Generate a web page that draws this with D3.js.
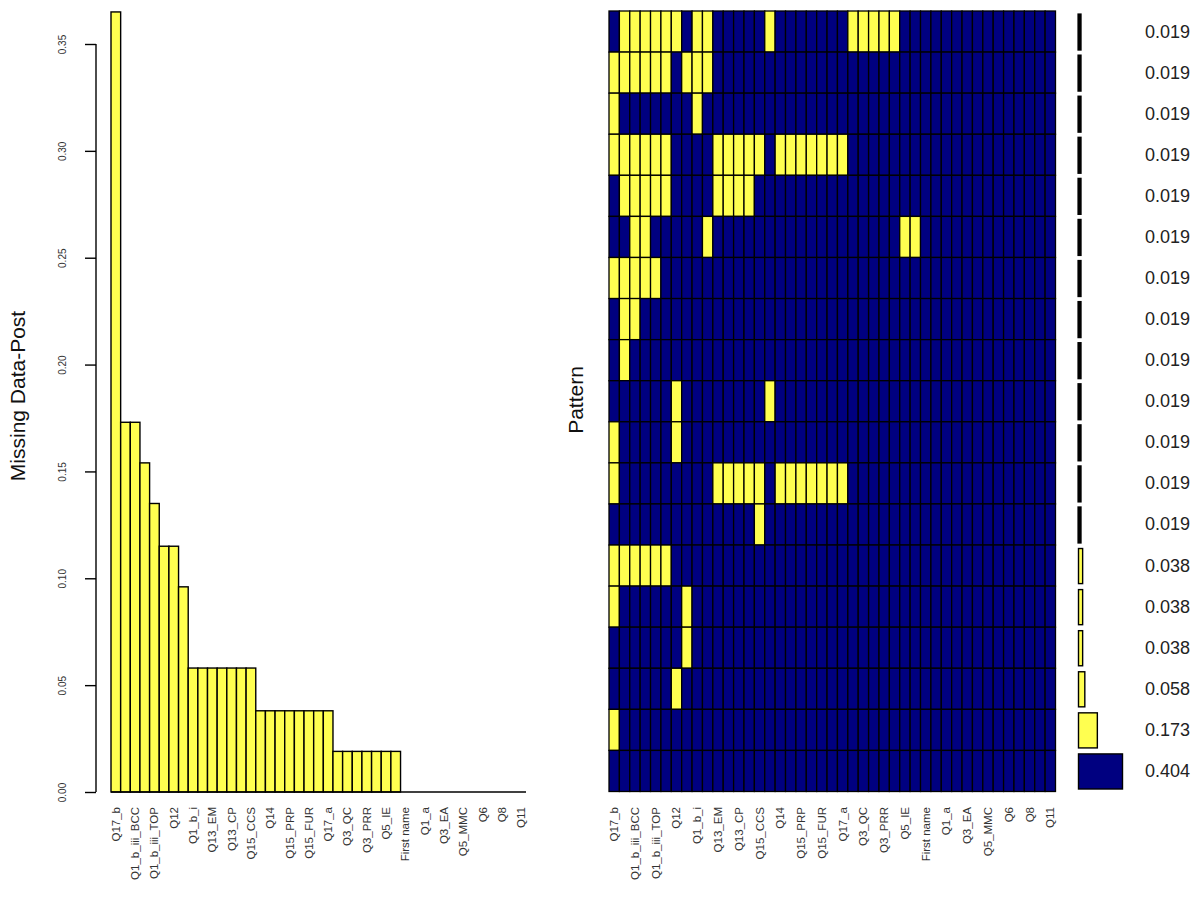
<!DOCTYPE html>
<html>
<head>
<meta charset="utf-8">
<script src="https://cdnjs.cloudflare.com/ajax/libs/d3/7.8.5/d3.min.js"></script>
<style>
  body { margin: 0; background: #fff; }
  text { font-family: "Liberation Sans", Arial, sans-serif; }
</style>
</head>
<body>
<svg class="chart" width="1200" height="900"></svg>
<script>
// variables in order of missingness; only every other name is printed
var varLabels = ['Q17_b', '', 'Q1_b_iii_BCC', '', 'Q1_b_iii_TOP', '', 'Q12', '',
  'Q1_b_i', '', 'Q13_EM', '', 'Q13_CP', '', 'Q15_CCS', '', 'Q14', '', 'Q15_PRP', '',
  'Q15_FUR', '', 'Q17_a', '', 'Q3_QC', '', 'Q3_PRR', '', 'Q5_IE', '', 'First name', '',
  'Q1_a', '', 'Q3_EA', '', 'Q5_MMC', '', 'Q6', '', 'Q8', '', 'Q11'];

// proportion missing per variable
var missingProp = [0.365, 0.173, 0.173, 0.154, 0.135, 0.115, 0.115, 0.096,
  0.058, 0.058, 0.058, 0.058, 0.058, 0.058, 0.058,
  0.038, 0.038, 0.038, 0.038, 0.038, 0.038, 0.038, 0.038,
  0.019, 0.019, 0.019, 0.019, 0.019, 0.019, 0.019,
  0, 0, 0, 0, 0, 0, 0, 0, 0, 0, 0, 0, 0];

var yTicks = [0, 0.05, 0.10, 0.15, 0.20, 0.25, 0.30, 0.35];

// missing variables (by index) in each pattern, top row first
var patternMissing = [
  [1, 2, 3, 4, 5, 6, 8, 9, 15, 23, 24, 25, 26, 27],
  [0, 1, 2, 3, 4, 5, 7, 8, 9],
  [0, 8],
  [0, 1, 2, 3, 4, 5, 10, 11, 12, 13, 14, 16, 17, 18, 19, 20, 21, 22],
  [1, 2, 3, 4, 5, 10, 11, 12, 13],
  [2, 3, 9, 28, 29],
  [0, 1, 2, 3, 4],
  [1, 2],
  [1],
  [6, 15],
  [0, 6],
  [0, 10, 11, 12, 13, 14, 16, 17, 18, 19, 20, 21, 22],
  [14],
  [0, 1, 2, 3, 4, 5],
  [0, 7],
  [7],
  [6],
  [0],
  []
];

// frequency of each pattern
var patternProp = [0.019, 0.019, 0.019, 0.019, 0.019, 0.019, 0.019, 0.019, 0.019,
  0.019, 0.019, 0.019, 0.019, 0.038, 0.038, 0.038, 0.058, 0.173, 0.404];

var yellow = '#ffff50';
var navy = '#000080';

var svg = d3.select('.chart');
var idx = d3.range(varLabels.length);

// ---- left: bar chart of missing proportions
var xBar = d3.scaleBand().domain(idx).range([111, 526]).padding(0);
var yBar = d3.scaleLinear().domain([0, 0.35]).range([792, 44]);

svg.append('g')
  .selectAll('rect')
  .data(missingProp.map(function (v, i) { return { i: i, v: v }; })
    .filter(function (d) { return d.v > 0; }))
  .join('rect')
  .attr('x', function (d) { return xBar(d.i); })
  .attr('y', function (d) { return yBar(d.v); })
  .attr('width', xBar.bandwidth())
  .attr('height', function (d) { return yBar(0) - yBar(d.v); })
  .style('fill', yellow)
  .style('stroke', '#000')
  .style('stroke-width', 1.4);

svg.append('line')
  .attr('x1', xBar.range()[0]).attr('x2', xBar.range()[1])
  .attr('y1', yBar(0)).attr('y2', yBar(0))
  .style('stroke', '#000').style('stroke-width', 1.4);

var yAxis = svg.append('g')
  .attr('transform', 'translate(96,0)')
  .call(d3.axisLeft(yBar).tickValues(yTicks).tickFormat(d3.format('.2f'))
    .tickSize(11).tickSizeOuter(0));
yAxis.select('.domain').remove();
yAxis.selectAll('line').style('stroke', '#000').style('stroke-width', 1.4);
yAxis.append('line')
  .attr('y1', yBar(0)).attr('y2', yBar(0.35))
  .style('stroke', '#000').style('stroke-width', 1.4);
yAxis.selectAll('text')
  .attr('x', 0).attr('dy', null)
  .attr('text-anchor', 'middle')
  .attr('dominant-baseline', 'central')
  .attr('transform', 'translate(-34,0) rotate(-90)')
  .style('font-size', '10px')
  .style('fill', '#333');

svg.append('g')
  .selectAll('text')
  .data(idx.filter(function (i) { return varLabels[i] !== ''; }))
  .join('text')
  .attr('transform', function (i) {
    return 'translate(' + (xBar(i) + xBar.bandwidth() / 2) + ',807) rotate(-90)';
  })
  .attr('text-anchor', 'end')
  .attr('dominant-baseline', 'central')
  .style('font-size', '11.5px')
  .style('fill', '#333')
  .text(function (i) { return varLabels[i]; });

svg.append('text')
  .attr('transform', 'translate(17,396) rotate(-90)')
  .attr('text-anchor', 'middle')
  .attr('dominant-baseline', 'central')
  .style('font-size', '21px')
  .style('fill', '#111')
  .text('Missing Data-Post');

// ---- right: pattern grid
var xCell = d3.scaleBand().domain(idx).range([609, 1055.5]);
var yCell = d3.scaleBand().domain(d3.range(patternProp.length)).range([11, 791.5]);

var cells = [];
patternMissing.forEach(function (miss, r) {
  idx.forEach(function (c) {
    cells.push({ r: r, c: c, m: miss.indexOf(c) >= 0 });
  });
});

svg.append('g')
  .selectAll('rect')
  .data(cells)
  .join('rect')
  .attr('x', function (d) { return xCell(d.c); })
  .attr('y', function (d) { return yCell(d.r); })
  .attr('width', xCell.bandwidth())
  .attr('height', yCell.bandwidth())
  .style('fill', function (d) { return d.m ? yellow : navy; })
  .style('stroke', '#000')
  .style('stroke-width', 1.3);

svg.append('g')
  .selectAll('text')
  .data(idx.filter(function (i) { return varLabels[i] !== ''; }))
  .join('text')
  .attr('transform', function (i) {
    return 'translate(' + (xCell(i) + xCell.bandwidth() / 2) + ',807) rotate(-90)';
  })
  .attr('text-anchor', 'end')
  .attr('dominant-baseline', 'central')
  .style('font-size', '11.5px')
  .style('fill', '#333')
  .text(function (i) { return varLabels[i]; });

svg.append('text')
  .attr('transform', 'translate(575,400) rotate(-90)')
  .attr('text-anchor', 'middle')
  .attr('dominant-baseline', 'central')
  .style('font-size', '21px')
  .style('fill', '#111')
  .text('Pattern');

// ---- pattern frequency bars
var xFreq = d3.scaleLinear().domain([0, 0.404]).range([0, 44]);

svg.append('g')
  .selectAll('rect')
  .data(patternProp)
  .join('rect')
  .attr('x', 1078.5)
  .attr('y', function (d, i) { return yCell(i) + 3.5; })
  .attr('width', function (d) { return xFreq(d); })
  .attr('height', yCell.bandwidth() - 6)
  .style('fill', function (d, i) { return patternMissing[i].length ? yellow : navy; })
  .style('stroke', '#000')
  .style('stroke-width', function (d) { return d < 0.03 ? 2.2 : 1.4; });

svg.append('g')
  .selectAll('text')
  .data(patternProp)
  .join('text')
  .attr('x', 1145)
  .attr('y', function (d, i) { return yCell(i) + yCell.bandwidth() / 2; })
  .attr('dominant-baseline', 'central')
  .style('font-size', '18px')
  .style('fill', '#222')
  .text(function (d) { return d3.format('.3f')(d); });
</script>
</body>
</html>
